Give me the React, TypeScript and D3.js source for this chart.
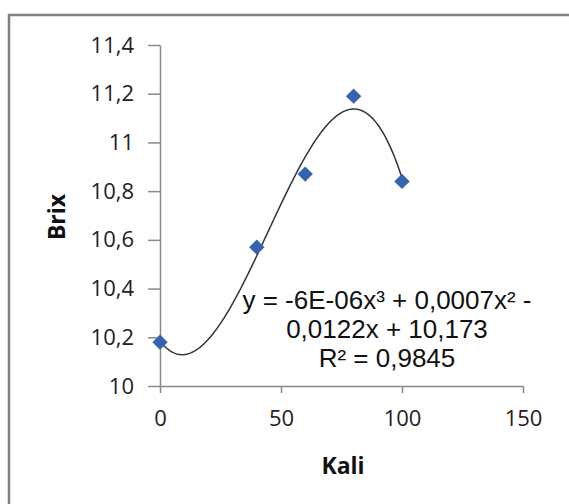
import React, { useEffect, useRef } from 'react';
import * as d3 from 'd3';

const kali = [0, 40, 60, 80, 100];
const brix = [10.18, 10.57, 10.87, 11.19, 10.84];
const yTicks = [10, 10.2, 10.4, 10.6, 10.8, 11, 11.2, 11.4];
const xTicks = [0, 50, 100, 150];
const eqLines = ['y = -6E-06x³ + 0,0007x² -', '0,0122x + 10,173', 'R² = 0,9845'];

// least squares cubic, same as the excel trendline
function fitCubic(xs: number[], ys: number[]) {
  const n = 4;
  const A: number[][] = [];
  for (let i = 0; i < n; i++) {
    A.push([]);
    for (let j = 0; j < n; j++) A[i].push(d3.sum(xs, x => Math.pow(x, i + j)));
    A[i].push(d3.sum(xs, (x, k) => Math.pow(x, i) * ys[k]));
  }
  for (let c = 0; c < n; c++) {
    let p = c;
    for (let r = c + 1; r < n; r++) if (Math.abs(A[r][c]) > Math.abs(A[p][c])) p = r;
    [A[c], A[p]] = [A[p], A[c]];
    for (let r = 0; r < n; r++) {
      if (r === c) continue;
      const f = A[r][c] / A[c][c];
      for (let k = c; k <= n; k++) A[r][k] -= f * A[c][k];
    }
  }
  return A.map((row, i) => row[n] / row[i]);
}

const App = () => {
  const svgRef = useRef<SVGSVGElement>(null);

  useEffect(() => {
    const svg = d3.select(svgRef.current);
    svg.selectAll('*').remove();

    const x = d3.scaleLinear().domain([0, 150]).range([160, 523]);
    const y = d3.scaleLinear().domain([10, 11.4]).range([386, 45]);
    const fmt = (d: any) => String(+(+d).toFixed(1)).replace('.', ',');

    // chart border (runs off right / bottom)
    svg.append('rect')
      .attr('x', 9).attr('y', 15).attr('width', 700).attr('height', 700)
      .attr('fill', 'white').attr('stroke', '#7f7f7f').attr('stroke-width', 2.5);

    const yAxis = svg.append('g').attr('transform', 'translate(160,0)')
      .call(d3.axisLeft(y).tickValues(yTicks).tickFormat(fmt).tickSize(12).tickSizeOuter(0).tickPadding(14));
    const xAxis = svg.append('g').attr('transform', 'translate(0,386)')
      .call(d3.axisBottom(x).tickValues(xTicks).tickFormat(fmt).tickSize(7).tickSizeOuter(0).tickPadding(17));

    [yAxis, xAxis].forEach(g => {
      g.selectAll('path, line').attr('stroke', '#8a8a8a').attr('stroke-width', 1.5);
      g.selectAll('text')
        .attr('fill', '#222')
        .style('font-family', '"Open Sans", sans-serif')
        .style('font-size', '22px');
    });

    const coef = fitCubic(kali, brix);
    const f = (v: number) => coef[0] + coef[1] * v + coef[2] * v * v + coef[3] * v * v * v;
    const xs = d3.range(0, 100.5, 0.5);
    svg.append('path')
      .datum(xs)
      .attr('d', d3.line<number>().x(d => x(d)).y(d => y(f(d))))
      .attr('fill', 'none').attr('stroke', '#333').attr('stroke-width', 1.5);

    svg.selectAll('.pt')
      .data(kali)
      .enter().append('path')
      .attr('class', 'pt')
      .attr('d', d3.symbol(d3.symbolDiamond2, 150)())
      .attr('transform', (d, i) => `translate(${x(d)},${y(brix[i])})`)
      .attr('fill', '#3563b0');

    const eq = svg.append('text')
      .attr('text-anchor', 'middle')
      .style('font-family', '"Liberation Sans", Arial, sans-serif')
      .style('font-size', '26px')
      .attr('fill', '#111');
    eqLines.forEach((t, i) => {
      eq.append('tspan').attr('x', 387).attr('y', 309 + i * 29).text(t);
    });

    svg.append('text')
      .attr('x', 343).attr('y', 474)
      .attr('text-anchor', 'middle')
      .style('font-family', '"Open Sans", sans-serif')
      .style('font-size', '23px').style('font-weight', 'bold')
      .attr('fill', '#111')
      .text('Kali');

    svg.append('text')
      .attr('transform', 'translate(65,217) rotate(-90)')
      .attr('text-anchor', 'middle')
      .style('font-family', '"Open Sans", sans-serif')
      .style('font-size', '23px').style('font-weight', 'bold')
      .attr('fill', '#111')
      .text('Brix');
  }, []);

  return (
    <svg ref={svgRef} width={569} height={504}
      style={{ position: 'absolute', left: 0, top: 0, background: 'white' }} />
  );
};

export default App;
